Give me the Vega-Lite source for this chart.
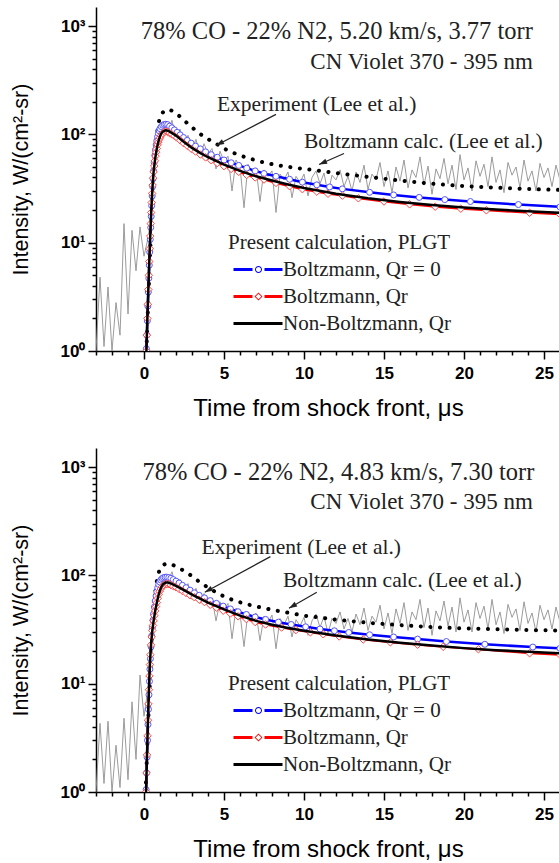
{
"$schema":"https://vega.github.io/schema/vega-lite/v6.json",
"background":"white",
"padding":{"left":10,"top":7,"right":0,"bottom":0},
"spacing":28,
"config":{
 "view":{"stroke":null},
 "axis":{"grid":false,"domainColor":"#000","domainWidth":1.5,"tickColor":"#000","tickWidth":1.5,"labelColor":"#000","labelFont":"Liberation Sans","labelFontWeight":"bold","labelFontSize":17,"titleFont":"Liberation Sans","titleFontWeight":"normal","titleFontSize":23,"titleColor":"#000","labelOverlap":false,"labelSeparation":0},
 "axisX":{"labelOverlap":false,"titleFontSize":24},
 "axisY":{"titleFontSize":21.5},
 "legend":{"orient":"none","legendX":132,"legendY":225,"titleFont":"Liberation Serif","titleFontSize":21,"titleFontWeight":"normal","titleColor":"#222","titleLimit":400,"labelLimit":400,"labelFont":"Liberation Serif","labelFontSize":21,"labelColor":"#222","symbolSize":100,"labelOffset":34,"rowPadding":5,"titlePadding":6,"padding":0,"symbolStrokeWidth":0,"symbolOpacity":1},
 "text":{"font":"Liberation Serif","fill":"#222"}
},
"datasets":{
 "e1":[{"t":-3,"v":1.0},{"t":-2.75,"v":4.8},{"t":-2.5,"v":1.1},{"t":-2.25,"v":3.9},{"t":-2,"v":1.0},{"t":-1.75,"v":2.8},{"t":-1.5,"v":1.4},{"t":-1.25,"v":15},{"t":-1,"v":2.2},{"t":-0.75,"v":13},{"t":-0.5,"v":5.5},{"t":-0.25,"v":14},{"t":0,"v":7.5},{"t":0.25,"v":11},{"t":0.5,"v":20},{"t":0.75,"v":55},{"t":1,"v":95},{"t":1.25,"v":125},{"t":1.5,"v":105},{"t":1.75,"v":135},{"t":2,"v":88},{"t":2.25,"v":112},{"t":2.5,"v":82},{"t":2.75,"v":98},{"t":3,"v":72},{"t":3.25,"v":90},{"t":3.5,"v":62},{"t":3.75,"v":82},{"t":4,"v":66},{"t":4.25,"v":74},{"t":4.5,"v":48},{"t":4.75,"v":70},{"t":5,"v":56},{"t":5.25,"v":63},{"t":5.5,"v":30},{"t":5.75,"v":58},{"t":6,"v":50},{"t":6.25,"v":21},{"t":6.5,"v":53},{"t":6.75,"v":45},{"t":7,"v":49},{"t":7.25,"v":24},{"t":7.5,"v":47},{"t":7.75,"v":41},{"t":8,"v":46},{"t":8.25,"v":19},{"t":8.5,"v":43},{"t":8.75,"v":38},{"t":9,"v":45},{"t":9.25,"v":26},{"t":9.5,"v":41},{"t":9.75,"v":36},{"t":10,"v":43},{"t":10.25,"v":27},{"t":10.5,"v":40},{"t":10.75,"v":46},{"t":11,"v":35},{"t":11.25,"v":44},{"t":11.5,"v":28},{"t":11.75,"v":42},{"t":12,"v":38},{"t":12.25,"v":47},{"t":12.5,"v":33},{"t":12.75,"v":41},{"t":13,"v":30},{"t":13.25,"v":45},{"t":13.5,"v":36},{"t":13.75,"v":52},{"t":14,"v":31},{"t":14.25,"v":43},{"t":14.5,"v":38},{"t":14.75,"v":55},{"t":15,"v":33},{"t":15.25,"v":46},{"t":15.5,"v":29},{"t":15.75,"v":50},{"t":16,"v":37},{"t":16.25,"v":58},{"t":16.5,"v":32},{"t":16.75,"v":47},{"t":17,"v":40},{"t":17.25,"v":62},{"t":17.5,"v":34},{"t":17.75,"v":51},{"t":18,"v":28},{"t":18.25,"v":48},{"t":18.5,"v":39},{"t":18.75,"v":60},{"t":19,"v":35},{"t":19.25,"v":52},{"t":19.5,"v":31},{"t":19.75,"v":65},{"t":20,"v":38},{"t":20.25,"v":49},{"t":20.5,"v":30},{"t":20.75,"v":57},{"t":21,"v":41},{"t":21.25,"v":53},{"t":21.5,"v":33},{"t":21.75,"v":62},{"t":22,"v":36},{"t":22.25,"v":47},{"t":22.5,"v":29},{"t":22.75,"v":55},{"t":23,"v":42},{"t":23.25,"v":50},{"t":23.5,"v":32},{"t":23.75,"v":58},{"t":24,"v":37},{"t":24.25,"v":46},{"t":24.5,"v":30},{"t":24.75,"v":54},{"t":25,"v":40},{"t":25.25,"v":49},{"t":25.5,"v":33},{"t":25.75,"v":52},{"t":26,"v":38}],
 "d1":[{"t":0.15,"v":1},{"t":0.25,"v":2.5},{"t":0.35,"v":6},{"t":0.45,"v":14},{"t":0.55,"v":30},{"t":0.65,"v":55},{"t":0.75,"v":85},{"t":0.85,"v":112},{"t":0.95,"v":135},{"t":1.1,"v":155},{"t":1.3,"v":166},{"t":1.55,"v":170},{"t":1.8,"v":164},{"t":2.2,"v":148},{"t":2.7,"v":127},{"t":3.25,"v":108},{"t":3.75,"v":95},{"t":4.5,"v":82},{"t":5.3,"v":70},{"t":6.4,"v":61},{"t":7.4,"v":55.5},{"t":8.3,"v":52},{"t":9.5,"v":49},{"t":11,"v":46},{"t":12.5,"v":43},{"t":14,"v":40.5},{"t":16,"v":37.5},{"t":18,"v":35},{"t":20,"v":33.3},{"t":22,"v":32.2},{"t":24,"v":31.3},{"t":26,"v":30.7}],
 "b1":[{"t":0.15,"v":1.05},{"t":0.18,"v":1.4},{"t":0.21,"v":1.9},{"t":0.24,"v":2.6},{"t":0.27,"v":3.5},{"t":0.3,"v":4.7},{"t":0.33,"v":6.2},{"t":0.36,"v":8.2},{"t":0.39,"v":10.7},{"t":0.42,"v":13.8},{"t":0.45,"v":17.5},{"t":0.48,"v":22},{"t":0.51,"v":27},{"t":0.54,"v":33},{"t":0.57,"v":39},{"t":0.6,"v":46},{"t":0.64,"v":55},{"t":0.68,"v":64},{"t":0.72,"v":72},{"t":0.76,"v":80},{"t":0.8,"v":87},{"t":0.85,"v":95},{"t":0.9,"v":102},{"t":0.95,"v":108},{"t":1.0,"v":113},{"t":1.08,"v":118},{"t":1.17,"v":121.5},{"t":1.27,"v":123.5},{"t":1.37,"v":124},{"t":1.48,"v":123},{"t":1.6,"v":119},{"t":1.74,"v":115},{"t":1.9,"v":110},{"t":2.07,"v":104.5},{"t":2.26,"v":99},{"t":2.47,"v":93.5},{"t":2.7,"v":88},{"t":2.95,"v":83},{"t":3.22,"v":78},{"t":3.52,"v":73.5},{"t":3.85,"v":69},{"t":4.2,"v":65},{"t":4.58,"v":61.5},{"t":5.0,"v":58},{"t":5.45,"v":54.7},{"t":5.92,"v":51.7},{"t":6.42,"v":48.8},{"t":6.95,"v":46},{"t":7.5,"v":43.5},{"t":8.25,"v":41},{"t":9.1,"v":38.5},{"t":9.9,"v":36.2},{"t":10.8,"v":34.2},{"t":11.6,"v":32.7},{"t":12.4,"v":31.4},{"t":14.1,"v":29.2},{"t":15.6,"v":27.6},{"t":17.2,"v":26.2},{"t":18.8,"v":25.0},{"t":20.4,"v":24.0},{"t":23.4,"v":22.5},{"t":26,"v":21.4}],
 "r1":[{"t":0.15,"v":1.0},{"t":0.18,"v":1.4},{"t":0.21,"v":2.0},{"t":0.24,"v":2.7},{"t":0.27,"v":3.7},{"t":0.3,"v":5},{"t":0.33,"v":6.7},{"t":0.36,"v":8.8},{"t":0.39,"v":11.5},{"t":0.42,"v":15},{"t":0.45,"v":19},{"t":0.48,"v":23.5},{"t":0.51,"v":28.5},{"t":0.54,"v":34},{"t":0.57,"v":39.5},{"t":0.6,"v":45},{"t":0.64,"v":51},{"t":0.68,"v":57},{"t":0.72,"v":63},{"t":0.76,"v":68.5},{"t":0.8,"v":74},{"t":0.85,"v":80},{"t":0.9,"v":85},{"t":0.95,"v":89.5},{"t":1.0,"v":93},{"t":1.08,"v":98},{"t":1.17,"v":102.5},{"t":1.27,"v":105.5},{"t":1.37,"v":106.5},{"t":1.48,"v":105.5},{"t":1.6,"v":102.8},{"t":1.74,"v":100.2},{"t":1.9,"v":96.7},{"t":2.07,"v":92.9},{"t":2.26,"v":88.3},{"t":2.47,"v":83.1},{"t":2.7,"v":78.6},{"t":2.95,"v":73.7},{"t":3.22,"v":69.5},{"t":3.52,"v":65.2},{"t":3.85,"v":61.3},{"t":4.2,"v":57.7},{"t":4.58,"v":54.3},{"t":5.0,"v":50.9},{"t":5.45,"v":48},{"t":5.92,"v":45.1},{"t":6.42,"v":42.2},{"t":6.95,"v":40},{"t":7.5,"v":38.3},{"t":8.25,"v":35.6},{"t":9.1,"v":33.2},{"t":9.9,"v":31.2},{"t":10.8,"v":29.6},{"t":11.5,"v":28.3},{"t":12.4,"v":27.2},{"t":13.4,"v":25.7},{"t":15,"v":24},{"t":16.6,"v":22.6},{"t":18.2,"v":21.5},{"t":19.8,"v":20.6},{"t":21.4,"v":19.9},{"t":24.1,"v":18.9},{"t":26,"v":18.3}],
 "k1":[{"t":0.15,"v":1},{"t":0.2,"v":1.8},{"t":0.25,"v":3},{"t":0.3,"v":5},{"t":0.35,"v":8},{"t":0.4,"v":12.5},{"t":0.45,"v":19},{"t":0.5,"v":27},{"t":0.55,"v":36},{"t":0.6,"v":45},{"t":0.7,"v":60},{"t":0.8,"v":74},{"t":0.9,"v":86},{"t":1.0,"v":96},{"t":1.1,"v":103},{"t":1.2,"v":107},{"t":1.35,"v":109},{"t":1.5,"v":108},{"t":1.7,"v":104},{"t":2.0,"v":97.5},{"t":2.5,"v":85},{"t":3.0,"v":75},{"t":3.5,"v":67.5},{"t":4.0,"v":61.5},{"t":5.0,"v":52.5},{"t":6.0,"v":46},{"t":7.0,"v":41},{"t":8.0,"v":37.5},{"t":9.0,"v":34.5},{"t":10,"v":32},{"t":12,"v":28.3},{"t":14,"v":25.7},{"t":16,"v":23.8},{"t":18,"v":22.3},{"t":20,"v":21.1},{"t":22,"v":20.2},{"t":24,"v":19.5},{"t":26,"v":18.9}],
 "h1":[{"label":"78% CO - 22% N2, 5.20 km/s, 3.77 torr","t":24.3,"v":763,"size":"big"},{"label":"CN Violet 370 - 395 nm","t":24.3,"v":400,"size":"mid"}],
 "n1":[{"label":"Experiment (Lee et al.)","t":4.56,"v":163},{"label":"Boltzmann calc. (Lee et al.)","t":10.0,"v":74.2}],
 "a1":[{"name":"exp","t":8.25,"v":153,"t2":4.5,"v2":79},{"name":"bol","t":12.5,"v":66.7,"t2":10.94,"v2":52.7}],
 "g1":[{"series":"Boltzmann, Qr = 0","t":1.37,"v":124},{"series":"Boltzmann, Qr","t":1.37,"v":106.5},{"series":"Non-Boltzmann, Qr","t":1.35,"v":109}],
 "e2":[{"t":-3,"v":1.0},{"t":-2.75,"v":4.3},{"t":-2.5,"v":1.2},{"t":-2.25,"v":4.5},{"t":-2,"v":1.0},{"t":-1.75,"v":2.7},{"t":-1.5,"v":1.1},{"t":-1.25,"v":4.8},{"t":-1,"v":1.3},{"t":-0.75,"v":6.8},{"t":-0.5,"v":2.0},{"t":-0.25,"v":12},{"t":0,"v":5},{"t":0.25,"v":9},{"t":0.5,"v":18},{"t":0.75,"v":50},{"t":1,"v":80},{"t":1.25,"v":100},{"t":1.5,"v":88},{"t":1.75,"v":108},{"t":2,"v":78},{"t":2.25,"v":92},{"t":2.5,"v":70},{"t":2.75,"v":84},{"t":3,"v":60},{"t":3.25,"v":76},{"t":3.5,"v":55},{"t":3.75,"v":68},{"t":4,"v":52},{"t":4.25,"v":62},{"t":4.5,"v":38},{"t":4.75,"v":57},{"t":5,"v":48},{"t":5.25,"v":55},{"t":5.5,"v":26},{"t":5.75,"v":50},{"t":6,"v":44},{"t":6.25,"v":22},{"t":6.5,"v":46},{"t":6.75,"v":40},{"t":7,"v":45},{"t":7.25,"v":25},{"t":7.5,"v":42},{"t":7.75,"v":37},{"t":8,"v":43},{"t":8.25,"v":21},{"t":8.5,"v":40},{"t":8.75,"v":35},{"t":9,"v":42},{"t":9.25,"v":27},{"t":9.5,"v":39},{"t":9.75,"v":34},{"t":10,"v":41},{"t":10.25,"v":28},{"t":10.5,"v":38},{"t":10.75,"v":44},{"t":11,"v":33},{"t":11.25,"v":42},{"t":11.5,"v":29},{"t":11.75,"v":40},{"t":12,"v":36},{"t":12.25,"v":46},{"t":12.5,"v":32},{"t":12.75,"v":40},{"t":13,"v":30},{"t":13.25,"v":44},{"t":13.5,"v":35},{"t":13.75,"v":50},{"t":14,"v":31},{"t":14.25,"v":42},{"t":14.5,"v":37},{"t":14.75,"v":53},{"t":15,"v":32},{"t":15.25,"v":45},{"t":15.5,"v":29},{"t":15.75,"v":49},{"t":16,"v":36},{"t":16.25,"v":56},{"t":16.5,"v":31},{"t":16.75,"v":46},{"t":17,"v":39},{"t":17.25,"v":60},{"t":17.5,"v":33},{"t":17.75,"v":50},{"t":18,"v":28},{"t":18.25,"v":47},{"t":18.5,"v":38},{"t":18.75,"v":58},{"t":19,"v":34},{"t":19.25,"v":51},{"t":19.5,"v":30},{"t":19.75,"v":62},{"t":20,"v":37},{"t":20.25,"v":48},{"t":20.5,"v":30},{"t":20.75,"v":56},{"t":21,"v":40},{"t":21.25,"v":52},{"t":21.5,"v":32},{"t":21.75,"v":60},{"t":22,"v":35},{"t":22.25,"v":46},{"t":22.5,"v":29},{"t":22.75,"v":54},{"t":23,"v":41},{"t":23.25,"v":49},{"t":23.5,"v":31},{"t":23.75,"v":57},{"t":24,"v":36},{"t":24.25,"v":45},{"t":24.5,"v":30},{"t":24.75,"v":53},{"t":25,"v":39},{"t":25.25,"v":48},{"t":25.5,"v":32},{"t":25.75,"v":51},{"t":26,"v":37}],
 "d2":[{"t":0.1,"v":1},{"t":0.2,"v":2.5},{"t":0.3,"v":6},{"t":0.4,"v":13},{"t":0.5,"v":26},{"t":0.6,"v":45},{"t":0.7,"v":68},{"t":0.8,"v":88},{"t":0.9,"v":104},{"t":1.0,"v":115},{"t":1.2,"v":125},{"t":1.45,"v":129},{"t":1.7,"v":127},{"t":2.0,"v":121},{"t":2.7,"v":106},{"t":3.6,"v":84},{"t":4.7,"v":67},{"t":5.7,"v":58},{"t":6.9,"v":52},{"t":8.2,"v":47.5},{"t":10,"v":42.5},{"t":12,"v":39},{"t":14,"v":36.5},{"t":16,"v":34.7},{"t":18,"v":33.3},{"t":20,"v":32.4},{"t":22,"v":31.8},{"t":24,"v":31.3},{"t":26,"v":31}],
 "b2":[{"t":0.13,"v":1.05},{"t":0.16,"v":1.5},{"t":0.19,"v":2.1},{"t":0.22,"v":3},{"t":0.25,"v":4.2},{"t":0.28,"v":5.8},{"t":0.31,"v":7.9},{"t":0.34,"v":10.5},{"t":0.37,"v":13.6},{"t":0.4,"v":17},{"t":0.44,"v":22},{"t":0.48,"v":27.5},{"t":0.52,"v":33},{"t":0.56,"v":38.5},{"t":0.6,"v":44},{"t":0.65,"v":51},{"t":0.7,"v":58},{"t":0.75,"v":64.5},{"t":0.8,"v":70.5},{"t":0.86,"v":77},{"t":0.92,"v":82.5},{"t":0.98,"v":87},{"t":1.05,"v":90.5},{"t":1.13,"v":93.5},{"t":1.22,"v":95.3},{"t":1.32,"v":96.2},{"t":1.43,"v":96.3},{"t":1.55,"v":95.5},{"t":1.68,"v":94},{"t":1.83,"v":91.5},{"t":2.0,"v":88.5},{"t":2.19,"v":85},{"t":2.4,"v":81},{"t":2.63,"v":77},{"t":2.88,"v":73},{"t":3.15,"v":69},{"t":3.45,"v":65.5},{"t":3.78,"v":62},{"t":4.14,"v":58.5},{"t":4.53,"v":55.2},{"t":4.95,"v":52},{"t":5.4,"v":49},{"t":5.88,"v":46.2},{"t":6.4,"v":43.6},{"t":6.95,"v":41.3},{"t":7.6,"v":39.2},{"t":8.4,"v":37},{"t":9.2,"v":35.2},{"t":10.1,"v":33.5},{"t":11,"v":32},{"t":11.9,"v":30.8},{"t":12.8,"v":29.7},{"t":14.1,"v":28.3},{"t":15.6,"v":27},{"t":17.1,"v":25.8},{"t":18.9,"v":24.5},{"t":21.3,"v":23.1},{"t":24.3,"v":21.8},{"t":26,"v":21.2}],
 "r2":[{"t":0.13,"v":1},{"t":0.16,"v":1.5},{"t":0.19,"v":2.2},{"t":0.22,"v":3.3},{"t":0.25,"v":4.6},{"t":0.28,"v":6.5},{"t":0.31,"v":8.8},{"t":0.34,"v":11.8},{"t":0.37,"v":15},{"t":0.4,"v":18.5},{"t":0.44,"v":22.8},{"t":0.48,"v":27},{"t":0.52,"v":31},{"t":0.56,"v":34.5},{"t":0.6,"v":38},{"t":0.65,"v":42.5},{"t":0.7,"v":47},{"t":0.75,"v":51.5},{"t":0.8,"v":56},{"t":0.86,"v":61.4},{"t":0.92,"v":66.8},{"t":0.98,"v":71.4},{"t":1.05,"v":75},{"t":1.13,"v":78.5},{"t":1.22,"v":81},{"t":1.32,"v":82.8},{"t":1.43,"v":83.2},{"t":1.55,"v":82.8},{"t":1.68,"v":81.3},{"t":1.83,"v":79.5},{"t":2.0,"v":77.6},{"t":2.19,"v":74.9},{"t":2.4,"v":71.8},{"t":2.63,"v":68.8},{"t":2.88,"v":65.6},{"t":3.15,"v":62.8},{"t":3.45,"v":59.7},{"t":3.78,"v":56.7},{"t":4.14,"v":53.5},{"t":4.53,"v":50.4},{"t":4.95,"v":47.2},{"t":5.4,"v":44.5},{"t":5.88,"v":41.9},{"t":6.4,"v":39.5},{"t":6.95,"v":37.1},{"t":7.6,"v":35.2},{"t":8.6,"v":33},{"t":9.5,"v":31.3},{"t":10.4,"v":29.8},{"t":11.2,"v":28.6},{"t":12.2,"v":27.3},{"t":13.7,"v":25.6},{"t":15.4,"v":24.1},{"t":17.1,"v":22.9},{"t":18.7,"v":21.9},{"t":20.9,"v":20.8},{"t":24.1,"v":19.1},{"t":26,"v":18.5}],
 "k2":[{"t":0.13,"v":1},{"t":0.18,"v":2},{"t":0.23,"v":3.7},{"t":0.28,"v":6.5},{"t":0.33,"v":11},{"t":0.38,"v":16.5},{"t":0.45,"v":24},{"t":0.52,"v":31},{"t":0.6,"v":38},{"t":0.7,"v":47},{"t":0.8,"v":56},{"t":0.9,"v":65},{"t":1.0,"v":73},{"t":1.1,"v":79},{"t":1.2,"v":83},{"t":1.35,"v":86},{"t":1.5,"v":86},{"t":1.7,"v":84},{"t":2.0,"v":80},{"t":2.5,"v":73},{"t":3.0,"v":66.5},{"t":3.5,"v":61},{"t":4.0,"v":56},{"t":5.0,"v":48.5},{"t":6.0,"v":42.5},{"t":7.0,"v":38},{"t":8.0,"v":35},{"t":9.0,"v":32.7},{"t":10,"v":30.8},{"t":12,"v":27.8},{"t":14,"v":25.6},{"t":16,"v":23.9},{"t":18,"v":22.5},{"t":20,"v":21.3},{"t":22,"v":20.4},{"t":24,"v":19.7},{"t":26,"v":19.1}],
 "h2":[{"label":"78% CO - 22% N2, 4.83 km/s, 7.30 torr","t":24.4,"v":755,"size":"big"},{"label":"CN Violet 370 - 395 nm","t":24.3,"v":409,"size":"mid"}],
 "n2":[{"label":"Experiment (Lee et al.)","t":3.6,"v":158},{"label":"Boltzmann calc. (Lee et al.)","t":8.68,"v":78.1}],
 "a2":[{"name":"exp","t":7.9,"v":149,"t2":3.8,"v2":69.8},{"name":"bol","t":10.8,"v":69.8,"t2":9.06,"v2":49.8}],
 "g2":[{"series":"Boltzmann, Qr = 0","t":1.43,"v":96.3},{"series":"Boltzmann, Qr","t":1.43,"v":83.2},{"series":"Non-Boltzmann, Qr","t":1.4,"v":86}]
},
"vconcat":[
{
 "width":464,"height":344,
 "layer":[
  {"data":{"name":"e1"},"mark":{"type":"line","stroke":"#909090","strokeWidth":0.9,"clip":true},
   "encoding":{
    "x":{"field":"t","type":"quantitative","title":"Time from shock front, μs","scale":{"domain":[-3,26],"nice":false,"zero":false},
      "axis":{"values":[-3,-2,-1,0,1,2,3,4,5,6,7,8,9,10,11,12,13,14,15,16,17,18,19,20,21,22,23,24,25,26],"tickCount":100,"format":"d","labelExpr":"datum.value % 5 == 0 ? datum.label : ''","tickSize":{"condition":{"test":"datum.value % 5 == 0","value":8},"value":4},"labelPadding":6,"titlePadding":15,"labelFlush":false,"labelOverlap":false}},
    "y":{"field":"v","type":"quantitative","title":"Intensity, W/(cm²-sr)","scale":{"type":"log","domain":[1,1500],"nice":false},
      "axis":{"values":[1,2,3,4,5,6,7,8,9,10,20,30,40,50,60,70,80,90,100,200,300,400,500,600,700,800,900,1000],"tickCount":100,"labelExpr":"datum.value==1?'10⁰':datum.value==10?'10¹':datum.value==100?'10²':datum.value==1000?'10³':''","tickSize":{"condition":{"test":"datum.value==1||datum.value==10||datum.value==100||datum.value==1000","value":8},"value":4},"labelPadding":3,"titlePadding":28,"labelOverlap":false}}}},
  {"data":{"name":"d1"},"mark":{"type":"line","stroke":"#000","strokeWidth":4,"strokeDash":[0.1,9.5],"strokeCap":"round","clip":true},
   "encoding":{"x":{"field":"t","type":"quantitative"},"y":{"field":"v","type":"quantitative"}}},
  {"data":{"name":"b1"},"mark":{"type":"line","stroke":"#0000ff","strokeWidth":2.5,"clip":true},
   "encoding":{"x":{"field":"t","type":"quantitative"},"y":{"field":"v","type":"quantitative"}}},
  {"data":{"name":"b1"},"mark":{"type":"point","shape":"circle","size":36,"filled":true,"fill":"#ffffff","stroke":"#5555ff","strokeWidth":1,"opacity":1,"clip":true},
   "encoding":{"x":{"field":"t","type":"quantitative"},"y":{"field":"v","type":"quantitative"}}},
  {"data":{"name":"r1"},"mark":{"type":"line","stroke":"#ff0000","strokeWidth":2,"clip":true},
   "encoding":{"x":{"field":"t","type":"quantitative"},"y":{"field":"v","type":"quantitative"}}},
  {"data":{"name":"r1"},"mark":{"type":"point","shape":"diamond","size":56,"filled":true,"fill":"#ffffff","stroke":"#ff4444","strokeWidth":1,"opacity":1,"clip":true},
   "encoding":{"x":{"field":"t","type":"quantitative"},"y":{"field":"v","type":"quantitative"}}},
  {"data":{"name":"k1"},"mark":{"type":"line","stroke":"#000","strokeWidth":2.5,"clip":true},
   "encoding":{"x":{"field":"t","type":"quantitative"},"y":{"field":"v","type":"quantitative"}}},
  {"data":{"name":"h1"},"transform":[{"filter":"datum.size == 'big'"}],"mark":{"type":"text","align":"right","baseline":"alphabetic","fontSize":24.5},
   "encoding":{"x":{"field":"t","type":"quantitative"},"y":{"field":"v","type":"quantitative"},"text":{"field":"label"}}},
  {"data":{"name":"h1"},"transform":[{"filter":"datum.size == 'mid'"}],"mark":{"type":"text","align":"right","baseline":"alphabetic","fontSize":23},
   "encoding":{"x":{"field":"t","type":"quantitative"},"y":{"field":"v","type":"quantitative"},"text":{"field":"label"}}},
  {"data":{"name":"n1"},"mark":{"type":"text","align":"left","baseline":"alphabetic","fontSize":21.5},
   "encoding":{"x":{"field":"t","type":"quantitative"},"y":{"field":"v","type":"quantitative"},"text":{"field":"label"}}},
  {"data":{"name":"a1"},"mark":{"type":"rule","stroke":"#222","strokeWidth":1.2},
   "encoding":{"x":{"field":"t","type":"quantitative"},"y":{"field":"v","type":"quantitative"},"x2":{"field":"t2"},"y2":{"field":"v2"}}},
  {"data":{"name":"a1"},"transform":[{"filter":"datum.name == 'exp'"}],"mark":{"type":"point","shape":"M0,0L0.6,1.8L-0.6,1.8Z","size":81,"filled":true,"fill":"#222","strokeWidth":0,"opacity":1,"angle":242},
   "encoding":{"x":{"field":"t2","type":"quantitative"},"y":{"field":"v2","type":"quantitative"}}},
  {"data":{"name":"a1"},"transform":[{"filter":"datum.name == 'bol'"}],"mark":{"type":"point","shape":"M0,0L0.6,1.8L-0.6,1.8Z","size":81,"filled":true,"fill":"#222","strokeWidth":0,"opacity":1,"angle":246},
   "encoding":{"x":{"field":"t2","type":"quantitative"},"y":{"field":"v2","type":"quantitative"}}},
  {"data":{"name":"g1"},"mark":{"type":"point","filled":true,"opacity":0,"size":100},
   "encoding":{"x":{"field":"t","type":"quantitative"},"y":{"field":"v","type":"quantitative"},
    "color":{"field":"series","type":"nominal","title":"Present calculation, PLGT","scale":{"domain":["Boltzmann, Qr = 0","Boltzmann, Qr","Non-Boltzmann, Qr"],"range":["#0000ff","#ff0000","#000000"]}},
    "shape":{"field":"series","type":"nominal","title":"Present calculation, PLGT","scale":{"domain":["Boltzmann, Qr = 0","Boltzmann, Qr","Non-Boltzmann, Qr"],"range":["M-1,-0.3H2.8V0.3H-1Z M5.2,-0.3H8.8V0.3H5.2Z M3.3,0A0.7,0.7 0 1,0 4.7,0A0.7,0.7 0 1,0 3.3,0Z M3.5,0A0.5,0.5 0 1,1 4.5,0A0.5,0.5 0 1,1 3.5,0Z","M-1,-0.3H2.8V0.3H-1Z M5.2,-0.3H8.8V0.3H5.2Z M4,-0.8L4.8,0L4,0.8L3.2,0Z M4,-0.56L3.44,0L4,0.56L4.56,0Z","M-1,-0.3H8.8V0.3H-1Z"]}}}}
 ]
},
{
 "width":464,"height":344,
 "layer":[
  {"data":{"name":"e2"},"mark":{"type":"line","stroke":"#909090","strokeWidth":0.9,"clip":true},
   "encoding":{
    "x":{"field":"t","type":"quantitative","title":"Time from shock front, μs","scale":{"domain":[-3,26],"nice":false,"zero":false},
      "axis":{"values":[-3,-2,-1,0,1,2,3,4,5,6,7,8,9,10,11,12,13,14,15,16,17,18,19,20,21,22,23,24,25,26],"tickCount":100,"format":"d","labelExpr":"datum.value % 5 == 0 ? datum.label : ''","tickSize":{"condition":{"test":"datum.value % 5 == 0","value":8},"value":4},"labelPadding":6,"titlePadding":15,"labelFlush":false,"labelOverlap":false}},
    "y":{"field":"v","type":"quantitative","title":"Intensity, W/(cm²-sr)","scale":{"type":"log","domain":[1,1500],"nice":false},
      "axis":{"values":[1,2,3,4,5,6,7,8,9,10,20,30,40,50,60,70,80,90,100,200,300,400,500,600,700,800,900,1000],"tickCount":100,"labelExpr":"datum.value==1?'10⁰':datum.value==10?'10¹':datum.value==100?'10²':datum.value==1000?'10³':''","tickSize":{"condition":{"test":"datum.value==1||datum.value==10||datum.value==100||datum.value==1000","value":8},"value":4},"labelPadding":3,"titlePadding":28,"labelOverlap":false}}}},
  {"data":{"name":"d2"},"mark":{"type":"line","stroke":"#000","strokeWidth":4,"strokeDash":[0.1,9.5],"strokeCap":"round","clip":true},
   "encoding":{"x":{"field":"t","type":"quantitative"},"y":{"field":"v","type":"quantitative"}}},
  {"data":{"name":"b2"},"mark":{"type":"line","stroke":"#0000ff","strokeWidth":2.5,"clip":true},
   "encoding":{"x":{"field":"t","type":"quantitative"},"y":{"field":"v","type":"quantitative"}}},
  {"data":{"name":"b2"},"mark":{"type":"point","shape":"circle","size":36,"filled":true,"fill":"#ffffff","stroke":"#5555ff","strokeWidth":1,"opacity":1,"clip":true},
   "encoding":{"x":{"field":"t","type":"quantitative"},"y":{"field":"v","type":"quantitative"}}},
  {"data":{"name":"r2"},"mark":{"type":"line","stroke":"#ff0000","strokeWidth":2,"clip":true},
   "encoding":{"x":{"field":"t","type":"quantitative"},"y":{"field":"v","type":"quantitative"}}},
  {"data":{"name":"r2"},"mark":{"type":"point","shape":"diamond","size":56,"filled":true,"fill":"#ffffff","stroke":"#ff4444","strokeWidth":1,"opacity":1,"clip":true},
   "encoding":{"x":{"field":"t","type":"quantitative"},"y":{"field":"v","type":"quantitative"}}},
  {"data":{"name":"k2"},"mark":{"type":"line","stroke":"#000","strokeWidth":2.5,"clip":true},
   "encoding":{"x":{"field":"t","type":"quantitative"},"y":{"field":"v","type":"quantitative"}}},
  {"data":{"name":"h2"},"transform":[{"filter":"datum.size == 'big'"}],"mark":{"type":"text","align":"right","baseline":"alphabetic","fontSize":24.5},
   "encoding":{"x":{"field":"t","type":"quantitative"},"y":{"field":"v","type":"quantitative"},"text":{"field":"label"}}},
  {"data":{"name":"h2"},"transform":[{"filter":"datum.size == 'mid'"}],"mark":{"type":"text","align":"right","baseline":"alphabetic","fontSize":23},
   "encoding":{"x":{"field":"t","type":"quantitative"},"y":{"field":"v","type":"quantitative"},"text":{"field":"label"}}},
  {"data":{"name":"n2"},"mark":{"type":"text","align":"left","baseline":"alphabetic","fontSize":21.5},
   "encoding":{"x":{"field":"t","type":"quantitative"},"y":{"field":"v","type":"quantitative"},"text":{"field":"label"}}},
  {"data":{"name":"a2"},"mark":{"type":"rule","stroke":"#222","strokeWidth":1.2},
   "encoding":{"x":{"field":"t","type":"quantitative"},"y":{"field":"v","type":"quantitative"},"x2":{"field":"t2"},"y2":{"field":"v2"}}},
  {"data":{"name":"a2"},"transform":[{"filter":"datum.name == 'exp'"}],"mark":{"type":"point","shape":"M0,0L0.6,1.8L-0.6,1.8Z","size":81,"filled":true,"fill":"#222","strokeWidth":0,"opacity":1,"angle":241},
   "encoding":{"x":{"field":"t2","type":"quantitative"},"y":{"field":"v2","type":"quantitative"}}},
  {"data":{"name":"a2"},"transform":[{"filter":"datum.name == 'bol'"}],"mark":{"type":"point","shape":"M0,0L0.6,1.8L-0.6,1.8Z","size":81,"filled":true,"fill":"#222","strokeWidth":0,"opacity":1,"angle":240},
   "encoding":{"x":{"field":"t2","type":"quantitative"},"y":{"field":"v2","type":"quantitative"}}},
  {"data":{"name":"g2"},"mark":{"type":"point","filled":true,"opacity":0,"size":100},
   "encoding":{"x":{"field":"t","type":"quantitative"},"y":{"field":"v","type":"quantitative"},
    "color":{"field":"series","type":"nominal","title":"Present calculation, PLGT","scale":{"domain":["Boltzmann, Qr = 0","Boltzmann, Qr","Non-Boltzmann, Qr"],"range":["#0000ff","#ff0000","#000000"]}},
    "shape":{"field":"series","type":"nominal","title":"Present calculation, PLGT","scale":{"domain":["Boltzmann, Qr = 0","Boltzmann, Qr","Non-Boltzmann, Qr"],"range":["M-1,-0.3H2.8V0.3H-1Z M5.2,-0.3H8.8V0.3H5.2Z M3.3,0A0.7,0.7 0 1,0 4.7,0A0.7,0.7 0 1,0 3.3,0Z M3.5,0A0.5,0.5 0 1,1 4.5,0A0.5,0.5 0 1,1 3.5,0Z","M-1,-0.3H2.8V0.3H-1Z M5.2,-0.3H8.8V0.3H5.2Z M4,-0.8L4.8,0L4,0.8L3.2,0Z M4,-0.56L3.44,0L4,0.56L4.56,0Z","M-1,-0.3H8.8V0.3H-1Z"]}}}}
 ]
}
],
"resolve":{"scale":{"color":"independent","shape":"independent"},"legend":{"color":"independent","shape":"independent"}}
}
